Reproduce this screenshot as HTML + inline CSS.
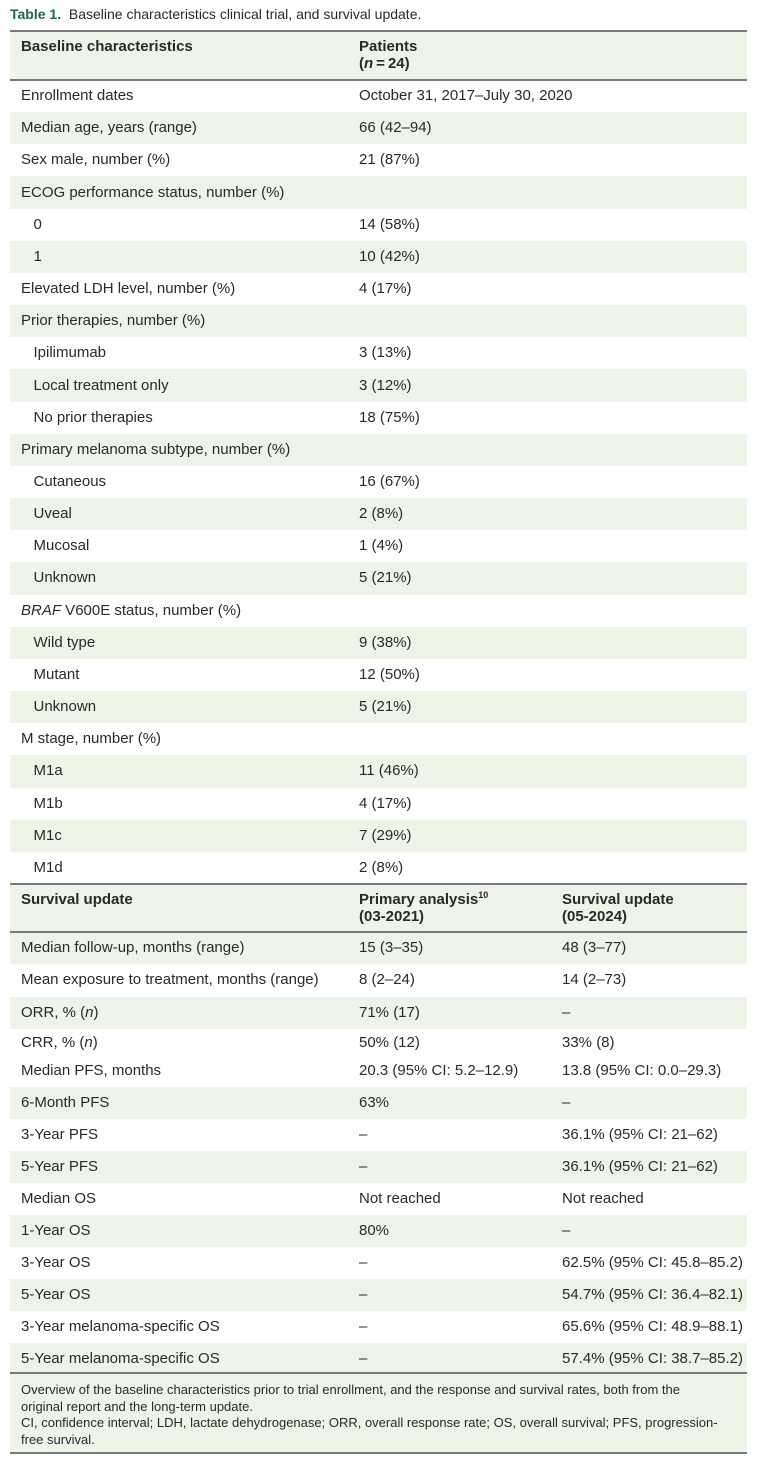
<!DOCTYPE html>
<html><head><meta charset="utf-8"><style>
body{margin:0;width:757px;height:1464px;background:#fff;position:relative;font-family:"Liberation Sans",sans-serif;font-size:15px;color:#2a2a2a;overflow:hidden}
.r{position:absolute;left:10px;width:737px}
.g{background:#eef4e8}
.t{position:absolute;white-space:nowrap}
.b{font-weight:bold}
.line{position:absolute;left:10px;width:737px;height:2px;background:#7a7a7a}
.sup{font-size:9px;position:relative;top:-6px;line-height:0}
</style></head><body>
<div class="t" style="left:10px;top:4px;font-size:14px;line-height:20px"><span style="color:#1e6a48;font-weight:bold">Table 1.</span>&nbsp; Baseline characteristics clinical trial, and survival update.</div>
<div id="c"></div>
<script>
var c=document.getElementById('c'),h='';
function row(top,hgt,g){h+='<div class="r'+(g?' g':'')+'" style="top:'+top+'px;height:'+hgt+'px"></div>';}
function txt(x,y,s,cls){h+='<div class="t '+(cls||'')+'" style="left:'+x+'px;top:'+(y-9)+'px;line-height:18px">'+s+'</div>';}
row(31,49,true);
txt(21,47,'Baseline characteristics','b');txt(359,47,'Patients','b');txt(359,64,'(<i>n</i>&thinsp;=&thinsp;24)','b');
var rows=[['Enrollment dates','October 31, 2017–July 30, 2020'],['Median age, years (range)','66 (42–94)'],['Sex male, number (%)','21 (87%)'],['ECOG performance status, number (%)',''],['&nbsp;&nbsp;&nbsp;0','14 (58%)'],['&nbsp;&nbsp;&nbsp;1','10 (42%)'],['Elevated LDH level, number (%)','4 (17%)'],['Prior therapies, number (%)',''],['&nbsp;&nbsp;&nbsp;Ipilimumab','3 (13%)'],['&nbsp;&nbsp;&nbsp;Local treatment only','3 (12%)'],['&nbsp;&nbsp;&nbsp;No prior therapies','18 (75%)'],['Primary melanoma subtype, number (%)',''],['&nbsp;&nbsp;&nbsp;Cutaneous','16 (67%)'],['&nbsp;&nbsp;&nbsp;Uveal','2 (8%)'],['&nbsp;&nbsp;&nbsp;Mucosal','1 (4%)'],['&nbsp;&nbsp;&nbsp;Unknown','5 (21%)'],['<i>BRAF</i> V600E status, number (%)',''],['&nbsp;&nbsp;&nbsp;Wild type','9 (38%)'],['&nbsp;&nbsp;&nbsp;Mutant','12 (50%)'],['&nbsp;&nbsp;&nbsp;Unknown','5 (21%)'],['M stage, number (%)',''],['&nbsp;&nbsp;&nbsp;M1a','11 (46%)'],['&nbsp;&nbsp;&nbsp;M1b','4 (17%)'],['&nbsp;&nbsp;&nbsp;M1c','7 (29%)'],['&nbsp;&nbsp;&nbsp;M1d','2 (8%)']];
var rh=32.16;
rows.forEach(function(r,i){var t=80+i*rh;row(t,rh,i%2==1);txt(21,t+rh/2,r[0]);txt(359,t+rh/2,r[1]);});
row(884,48,true);
txt(21,900,'Survival update','b');txt(359,900,'Primary analysis<span class="sup">10</span>','b');txt(359,917,'(03-2021)','b');txt(562,900,'Survival update','b');txt(562,917,'(05-2024)','b');
var r2=[['Median follow-up, months (range)','15 (3–35)','48 (3–77)',1],['Mean exposure to treatment, months (range)','8 (2–24)','14 (2–73)',0],['ORR, % (<i>n</i>)','71% (17)','–',1]];
var y=932;
r2.forEach(function(r){row(y,32.3,r[3]);txt(21,y+16,r[0]);txt(359,y+16,r[1]);txt(562,y+16,r[2]);y+=32.3;});
row(y,1087-y,false);
txt(21,1043,'CRR, % (<i>n</i>)');txt(359,1043,'50% (12)');txt(562,1043,'33% (8)');
txt(21,1071,'Median PFS, months');txt(359,1071,'20.3 (95% CI: 5.2–12.9)');txt(562,1071,'13.8 (95% CI: 0.0–29.3)');
var r3=[['6-Month PFS','63%','–'],['3-Year PFS','–','36.1% (95% CI: 21–62)'],['5-Year PFS','–','36.1% (95% CI: 21–62)'],['Median OS','Not reached','Not reached'],['1-Year OS','80%','–'],['3-Year OS','–','62.5% (95% CI: 45.8–85.2)'],['5-Year OS','–','54.7% (95% CI: 36.4–82.1)'],['3-Year melanoma-specific OS','–','65.6% (95% CI: 48.9–88.1)'],['5-Year melanoma-specific OS','–','57.4% (95% CI: 38.7–85.2)']];
y=1087;
r3.forEach(function(r,i){row(y,32,i%2==0);txt(21,y+16,r[0]);txt(359,y+16,r[1]);txt(562,y+16,r[2]);y+=32;});
row(1373,80,true);
h+='<div class="t" style="left:21px;top:1382px;font-size:13px;line-height:16.5px;white-space:normal;width:702px">Overview of the baseline characteristics prior to trial enrollment, and the response and survival rates, both from the original report and the long-term update.<br>CI, confidence interval; LDH, lactate dehydrogenase; ORR, overall response rate; OS, overall survival; PFS, progression-free survival.</div>';
[30,79,883,931,1372,1452].forEach(function(v){h+='<div class="line" style="top:'+v+'px"></div>';});
c.innerHTML=h;
</script>
</body></html>
